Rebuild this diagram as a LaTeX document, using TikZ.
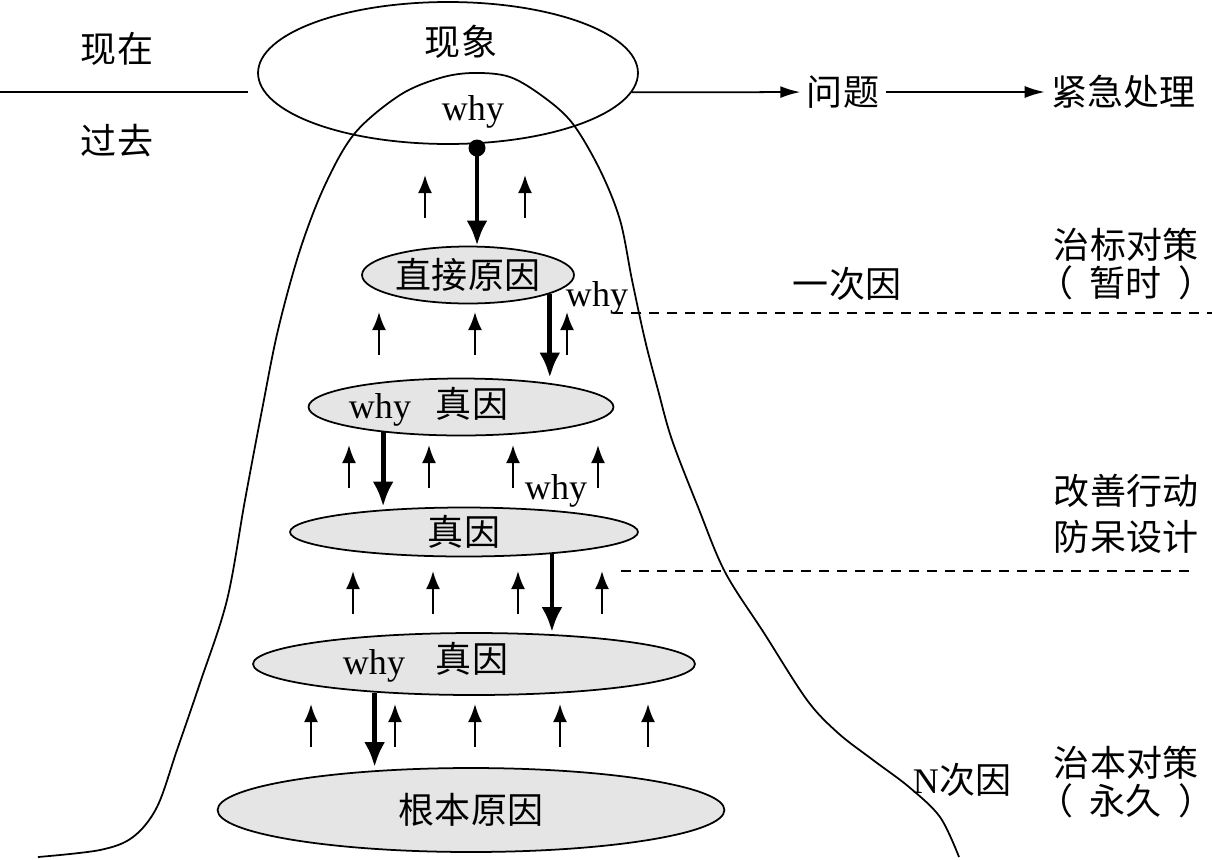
\documentclass[tikz,border=0pt]{standalone}
\usepackage{fontspec}
\setmainfont{Liberation Serif}
\newfontfamily\cjk{Noto Sans CJK SC}
\usetikzlibrary{positioning,shapes.geometric,arrows.meta,calc}

\begin{document}
\begin{tikzpicture}[x=0.02cm, y=-0.02cm, >={Latex[length=4mm,width=2.4mm]}, line width=1pt,
  layer/.style={draw, ellipse, fill=black!10, inner sep=0pt},
  zh/.style={font=\cjk\fontsize{20.5}{21.5}\selectfont},
  en/.style={font=\fontsize{20.5}{23}\selectfont},
  pull/.style={-{Latex[length=5mm,width=4.2mm]}, line width=2.8pt},
  lift/.style={-{Latex[length=3.6mm,width=2.8mm]}, line width=1.2pt}]
  \useasboundingbox (0,0) rectangle (1212,859);

  % the hill of causes
  \draw plot[smooth, tension=0.55] coordinates {
    (38,857) (100,850) (133,837) (157,807) (177,750) (200,683) (227,600)
    (245,500) (262,410) (278,330) (300,250) (325,185) (355,133) (400,95)
    (440,78) (473,73) (510,77) (545,98) (573,124) (600,170) (620,220)
    (632,280) (645,340) (658,390) (672,440) (698,507) (725,572) (764,633)
    (807,700) (838,733) (873,760) (909,787) (940,817) (959,857)};

  \node[draw, ellipse, minimum width=7.6cm, minimum height=2.84cm] (event) at (448,73) {};
  \node[zh] (phen) at (461,42) {现象};
  \node[en] (why0) at (473,112) {why};
  \node[circle, fill, inner sep=0pt, minimum size=0.34cm] (knot) at (477,148) {};

  \node[layer, minimum width=4.24cm, minimum height=1.14cm, zh] (cause1) at (468,275) {直接原因};
  \node[layer, minimum width=6.1cm, minimum height=1.14cm] (real1) at (461,407) {};
  \node[layer, minimum width=6.96cm, minimum height=0.98cm, zh] (real2) at (464,532) {真因};
  \node[layer, minimum width=8.84cm, minimum height=1.24cm] (real3) at (474,664) {};
  \node[layer, minimum width=10.14cm, minimum height=1.68cm, zh] (root) at (471,810) {根本原因};

  \node[en] (whyA) at (380,410) {why};
  \node[zh] (zhenA) at (472,404) {真因};
  \node[en] (whyB) at (374,666) {why};
  \node[zh] (zhenB) at (472,659) {真因};
  \node[en] (why1) at (597,298) {why};
  \node[en] (why2) at (556,491) {why};

  % time split
  \node[zh] (now) at (117,49) {现在};
  \node[zh] (past) at (117,141) {过去};
  \coordinate (edge) at (0,92);
  \coordinate (split) at (248,92);
  \draw (edge) -- (split);

  \node[zh] (issue) at (843,92) {问题};
  \node[zh, right=3.18cm of issue] (urgent) {紧急处理};
  \draw[->] (event.-6) -- (issue);
  \draw[->] (issue) -- (urgent);

  \node[zh] (once) at (847,284) {一次因};
  \node[en] (nth) at (962,780) {N{\cjk 次因}};
  \node[zh, align=center, inner sep=2pt] (temp) at (1126,264) {治标对策\\（\hspace{0.45em}暂时\hspace{0.45em}）};
  \node[zh, align=center, inner sep=2pt] (improve) at (1126,514) {改善行动\\[4.5pt]防呆设计};
  \node[zh, align=center, inner sep=2pt] (perm) at (1126,782) {治本对策\\（\hspace{0.45em}永久\hspace{0.45em}）};

  \draw[dash pattern=on 0.2cm off 0.16cm] (613,313) -- (1212,313);
  \draw[dash pattern=on 0.2cm off 0.16cm] (621,571) -- (1196,571);

  % asking why, level by level
  \draw[pull] (knot.center) -- (knot |- cause1.north);
  \draw[pull] (cause1.-13.5) -- (cause1.-13.5 |- real1.north);
  \draw[pull] (real1.-162.8) -- (real1.-162.8 |- real2.north);
  \draw[pull] (real2.-14.5) -- (real2.-14.5 |- real3.north);
  \draw[pull] (real3.-164) -- (real3.-164 |- root.north);

  \foreach \x/\y in {425/218, 525/218, 379/355, 475/355, 567/355,
      349/488, 429/488, 513/488, 598/488, 353/614, 433/614, 518/614, 602/614,
      311/747, 395/747, 475/747, 560/747, 648/747}
    \draw[lift] (\x,\y) -- ++(0,-43);
\end{tikzpicture}
\end{document}
